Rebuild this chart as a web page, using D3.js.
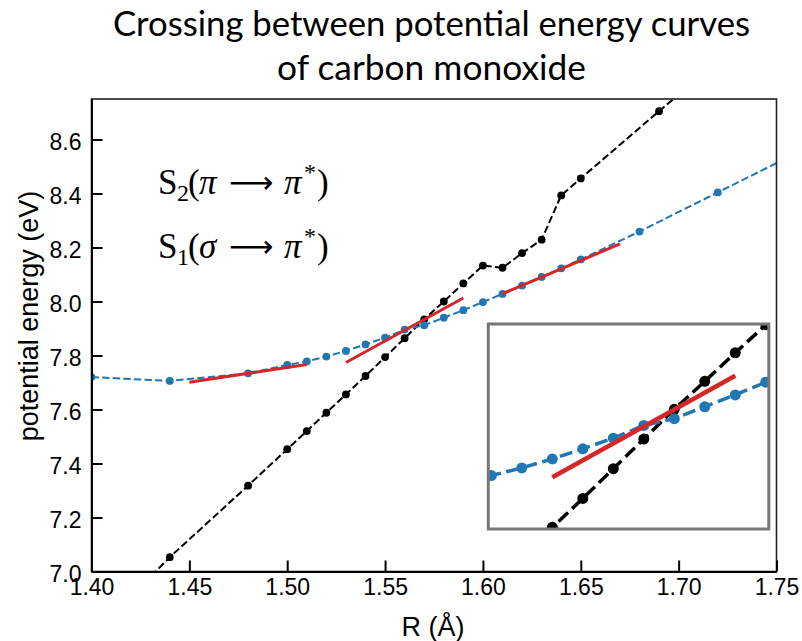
<!DOCTYPE html>
<html>
<head>
<meta charset="utf-8">
<script src="https://cdn.jsdelivr.net/npm/d3@7"></script>
<style>
  body { margin: 0; background: #fff; }
  svg { display: block; }
</style>
</head>
<body>
<svg id="chart" width="802" height="641"></svg>
<script>
// S2 (pi -> pi*) state: bond length (Å) and energy (eV)
const s2R = [1.40, 1.44, 1.48, 1.50, 1.51, 1.52, 1.53, 1.54, 1.55, 1.56, 1.57, 1.58, 1.59, 1.60, 1.61, 1.62, 1.63, 1.64, 1.65, 1.69, 1.72];
const s2E = [6.76, 7.053, 7.318, 7.453, 7.520, 7.588, 7.656, 7.724, 7.794, 7.864, 7.934, 8.000, 8.067, 8.133, 8.125, 8.179, 8.229, 8.393, 8.456, 8.705, 8.89];

// S1 (sigma -> pi*) state
const s1R = [1.40, 1.44, 1.48, 1.50, 1.51, 1.52, 1.53, 1.54, 1.55, 1.56, 1.57, 1.58, 1.59, 1.60, 1.61, 1.62, 1.63, 1.64, 1.65, 1.68, 1.72, 1.76];
const s1E = [7.720, 7.706, 7.734, 7.765, 7.778, 7.796, 7.817, 7.841, 7.866, 7.896, 7.912, 7.940, 7.968, 7.998, 8.028, 8.059, 8.091, 8.123, 8.156, 8.259, 8.404, 8.549];

// Local linear fits (start / end of each segment)
const fitStartR = [1.45, 1.53, 1.61];
const fitStartE = [7.701, 7.774, 8.029];
const fitEndR = [1.51, 1.59, 1.67];
const fitEndE = [7.767, 8.013, 8.213];

// Axis ticks
const xTicks = [1.40, 1.45, 1.50, 1.55, 1.60, 1.65, 1.70, 1.75];
const yTicks = [7.0, 7.2, 7.4, 7.6, 7.8, 8.0, 8.2, 8.4, 8.6];

const titleLines = ["Crossing between potential energy curves", "of carbon monoxide"];
const stateSubs = ["2", "1"];
const stateFrom = ["π", "σ"];

const BLUE = "#1f77b4", RED = "#d62728", BLACK = "#000";
const SANS = "'Liberation Sans', Arial, Helvetica, sans-serif";
const SERIF = "'Liberation Serif', 'Times New Roman', serif";

const svg = d3.select("#chart");
svg.append("rect").attr("width", 802).attr("height", 641).attr("fill", "#fff");

// ---- main axes ----
const plot = { left: 91.5, right: 776.5, top: 99, bottom: 571.5 };
const x = d3.scaleLinear().domain([1.40, 1.75]).range([plot.left, plot.right]);
const y = d3.scaleLinear().domain([7.0, 8.75]).range([plot.bottom, plot.top]);

const defs = svg.append("defs");
defs.append("clipPath").attr("id", "mainClip").append("rect")
  .attr("x", plot.left).attr("y", plot.top)
  .attr("width", plot.right - plot.left).attr("height", plot.bottom - plot.top);

const s2 = s2R.map((r, i) => [r, s2E[i]]);
const s1 = s1R.map((r, i) => [r, s1E[i]]);
const fits = fitStartR.map((r, i) => [[r, fitStartE[i]], [fitEndR[i], fitEndE[i]]]);

function drawSeries(g, sx, sy, opts) {
  const line = d3.line().x(d => sx(d[0])).y(d => sy(d[1]));
  // S2 curve
  g.append("path").datum(s2).attr("d", line)
    .attr("fill", "none").attr("stroke", BLACK)
    .attr("stroke-width", opts.lw).attr("stroke-dasharray", opts.dash);
  g.selectAll(null).data(s2).join("circle")
    .attr("cx", d => sx(d[0])).attr("cy", d => sy(d[1]))
    .attr("r", opts.r).attr("fill", BLACK);
  // S1 curve
  g.append("path").datum(s1).attr("d", line)
    .attr("fill", "none").attr("stroke", BLUE)
    .attr("stroke-width", opts.lw).attr("stroke-dasharray", opts.dash);
  g.selectAll(null).data(s1).join("circle")
    .attr("cx", d => sx(d[0])).attr("cy", d => sy(d[1]))
    .attr("r", opts.r).attr("fill", BLUE);
  // linear fits
  opts.fits.forEach(f => {
    g.append("path").datum(f).attr("d", line)
      .attr("fill", "none").attr("stroke", RED).attr("stroke-width", opts.fitLw);
  });
}

const mainG = svg.append("g").attr("clip-path", "url(#mainClip)");
drawSeries(mainG, x, y, { lw: 2, dash: "7.4,3.2", r: 3.9, fitLw: 3, fits: fits });

// frame (top/right)
svg.append("rect")
  .attr("x", plot.left).attr("y", plot.top)
  .attr("width", plot.right - plot.left).attr("height", plot.bottom - plot.top)
  .attr("fill", "none").attr("stroke", "#222").attr("stroke-width", 1.6);

// axes with inward ticks
const xAxis = d3.axisBottom(x).tickValues(xTicks).tickFormat(d3.format(".2f"))
  .tickSizeInner(-11).tickSizeOuter(0).tickPadding(7);
const yAxis = d3.axisLeft(y).tickValues(yTicks).tickFormat(d3.format(".1f"))
  .tickSizeInner(-11).tickSizeOuter(0).tickPadding(10);

const gx = svg.append("g").attr("transform", `translate(0,${plot.bottom})`).call(xAxis);
const gy = svg.append("g").attr("transform", `translate(${plot.left},0)`).call(yAxis);
[gx, gy].forEach(g => {
  g.attr("font-family", SANS).attr("font-size", 23);
  g.select(".domain").attr("stroke", "#000").attr("stroke-width", 2);
  g.selectAll(".tick line").attr("stroke", "#000").attr("stroke-width", 2);
  g.selectAll(".tick text").attr("fill", "#000");
});
gy.selectAll(".tick text").attr("dy", "0.45em");

// axis titles
svg.append("text")
  .attr("x", 433).attr("y", 636)
  .attr("text-anchor", "middle")
  .attr("font-family", SANS)
  .attr("font-size", 27).attr("fill", "#000")
  .text("R (Å)");

svg.append("text")
  .attr("transform", "translate(38,316) rotate(-90)")
  .attr("text-anchor", "middle")
  .attr("font-family", SANS)
  .attr("font-size", 27).attr("fill", "#000")
  .text("potential energy (eV)");

// title
const titleWidths = [637, 309];
const titleY = [36, 80];
titleLines.forEach((t, i) => {
  svg.append("text")
    .attr("x", 431.5).attr("y", titleY[i])
    .attr("text-anchor", "middle")
    .attr("font-family", "Lato, 'Open Sans', sans-serif")
    .attr("font-size", 35).attr("fill", "#000")
    .attr("textLength", titleWidths[i]).attr("lengthAdjust", "spacingAndGlyphs")
    .text(t);
});

// state labels, typeset piece by piece
function stateLabel(yBase, sub, greek) {
  const g = svg.append("g").attr("transform", `translate(158,${yBase})`)
    .attr("font-family", SERIF).attr("fill", "#000");
  const piece = (dx, dy, size, txt, italic, family) => {
    const t = g.append("text").attr("x", dx).attr("y", dy)
      .attr("font-size", size).text(txt);
    if (italic) t.attr("font-style", "italic");
    if (family) t.attr("font-family", family);
    return t;
  };
  piece(0, 0, 35, "S");
  piece(19, 7, 24, sub);
  piece(30, 0, 35, "(");
  piece(41, 0, 35, greek, true);
  piece(71, -1, 31, "⟶", false, "'DejaVu Sans', sans-serif");
  piece(126, 0, 35, "π", true);
  piece(146, -14, 24, "*");
  piece(159, 0, 35, ")");
}
stateLabel(194, stateSubs[0], stateFrom[0]);
stateLabel(258, stateSubs[1], stateFrom[1]);

// ---- inset: zoom on the crossing ----
const inset = { left: 488.3, right: 768.8, top: 324, bottom: 529 };
const xi = d3.scaleLinear().domain([1.509, 1.601]).range([inset.left, inset.right]);
const yi = d3.scaleLinear().domain([7.652, 8.135]).range([inset.bottom, inset.top]);

defs.append("clipPath").attr("id", "insetClip").append("rect")
  .attr("x", inset.left).attr("y", inset.top)
  .attr("width", inset.right - inset.left).attr("height", inset.bottom - inset.top);

svg.append("rect")
  .attr("x", inset.left).attr("y", inset.top)
  .attr("width", inset.right - inset.left).attr("height", inset.bottom - inset.top)
  .attr("fill", "#fff");

const insetG = svg.append("g").attr("clip-path", "url(#insetClip)");
drawSeries(insetG, xi, yi, { lw: 3.5, dash: "13,5.6", r: 5.5, fitLw: 4.5, fits: [fits[1]] });

svg.append("rect")
  .attr("x", inset.left).attr("y", inset.top)
  .attr("width", inset.right - inset.left).attr("height", inset.bottom - inset.top)
  .attr("fill", "none").attr("stroke", "#777").attr("stroke-width", 3);
</script>
</body>
</html>
